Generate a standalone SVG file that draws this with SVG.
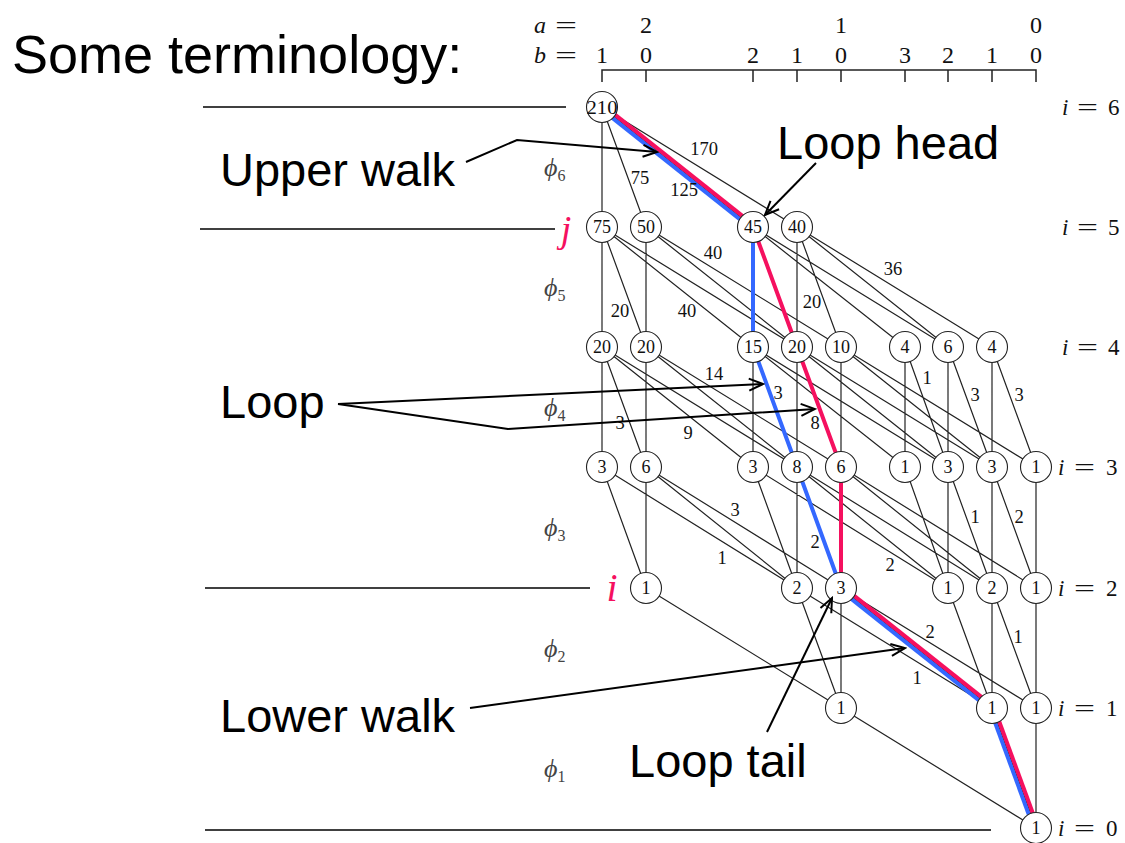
<svg xmlns="http://www.w3.org/2000/svg" width="1125" height="843" viewBox="0 0 1125 843">
<style>
.bg{fill:#fff}
.big{font-family:"Liberation Sans",Arial,sans-serif;font-size:47px;fill:#000}
.e{stroke:#222;stroke-width:1.2;fill:none}
.red{stroke:#F5105F;stroke-width:4;fill:none}
.blue{stroke:#3468FF;stroke-width:4;fill:none}
.nd circle{fill:#fff;stroke:#222;stroke-width:1.1}
.nd text{font-family:"Liberation Serif","DejaVu Serif",serif;font-size:18px;text-anchor:middle;fill:#111}
.lb{font-family:"Liberation Serif","DejaVu Serif",serif;font-size:18.5px;text-anchor:middle;fill:#111}
.m{font-family:"Liberation Serif","DejaVu Serif",serif;font-size:24px;fill:#111}
.mc{font-family:"Liberation Serif","DejaVu Serif",serif;font-size:24px;fill:#111;text-anchor:middle}
.il{font-family:"Liberation Serif","DejaVu Serif",serif;font-size:23px;fill:#111}
.phi{font-family:"Liberation Serif","DejaVu Serif",serif;font-size:26px;font-style:italic;fill:#444}
.phi tspan{font-size:16px;font-style:normal}
.rule{stroke:#000;stroke-width:1.5}
.arr{stroke:#000;stroke-width:2;fill:none;marker-end:url(#ah)}
.pink{font-family:"Liberation Serif","DejaVu Serif",serif;font-style:italic;fill:#F5105F;text-anchor:middle}
</style>
<defs>
<marker id="ah" viewBox="-16 -8 18 16" markerWidth="18" markerHeight="16" refX="0" refY="0" orient="auto" markerUnits="userSpaceOnUse">
<path d="M-14,-6 L0,0 L-14,6" fill="none" stroke="#000" stroke-width="2"/>
</marker>
</defs>
<rect class="bg" x="0" y="0" width="1125" height="843"/>

<text class="big" x="12" y="73" style="font-size:54px">Some terminology:</text>

<g id="header">
<text class="m" x="534" y="33" font-style="italic">a</text>
<text class="m" x="555" y="33" textLength="22" lengthAdjust="spacingAndGlyphs">=</text>
<text class="mc" x="646" y="33">2</text>
<text class="mc" x="841" y="33">1</text>
<text class="mc" x="1036" y="33">0</text>
<text class="m" x="534" y="63" font-style="italic">b</text>
<text class="m" x="555" y="63" textLength="22" lengthAdjust="spacingAndGlyphs">=</text>
<text class="mc" x="602" y="63">1</text>
<text class="mc" x="646" y="63">0</text>
<text class="mc" x="753" y="63">2</text>
<text class="mc" x="797" y="63">1</text>
<text class="mc" x="841" y="63">0</text>
<text class="mc" x="905" y="63">3</text>
<text class="mc" x="948" y="63">2</text>
<text class="mc" x="992" y="63">1</text>
<text class="mc" x="1036" y="63">0</text>
<path d="M602,82 V70 H1036 V82 M646,70 V82 M753,70 V82 M797,70 V82 M841,70 V82 M905,70 V82 M948,70 V82 M992,70 V82" stroke="#222" stroke-width="1.5" fill="none"/>
</g>

<g id="rules">
<line class="rule" x1="203" y1="107" x2="566" y2="107"/>
<line class="rule" x1="200" y1="229" x2="555" y2="229"/>
<line class="rule" x1="205" y1="588" x2="590" y2="588"/>
<line class="rule" x1="205" y1="830" x2="991" y2="830"/>
</g>

<g id="phis">
<text class="phi" x="544" y="176">ϕ<tspan dy="5">6</tspan></text>
<text class="phi" x="544" y="296">ϕ<tspan dy="5">5</tspan></text>
<text class="phi" x="544" y="416">ϕ<tspan dy="5">4</tspan></text>
<text class="phi" x="544" y="536">ϕ<tspan dy="5">3</tspan></text>
<text class="phi" x="544" y="657">ϕ<tspan dy="5">2</tspan></text>
<text class="phi" x="544" y="777">ϕ<tspan dy="5">1</tspan></text>
</g>

<g id="rowlabels">
<text class="il" y="115"><tspan x="1062" font-style="italic">i</tspan><tspan x="1077" textLength="21" lengthAdjust="spacingAndGlyphs">=</tspan><tspan x="1108">6</tspan></text>
<text class="il" y="235"><tspan x="1062" font-style="italic">i</tspan><tspan x="1077" textLength="21" lengthAdjust="spacingAndGlyphs">=</tspan><tspan x="1108">5</tspan></text>
<text class="il" y="355"><tspan x="1062" font-style="italic">i</tspan><tspan x="1077" textLength="21" lengthAdjust="spacingAndGlyphs">=</tspan><tspan x="1108">4</tspan></text>
<text class="il" y="475"><tspan x="1058" font-style="italic">i</tspan><tspan x="1074" textLength="21" lengthAdjust="spacingAndGlyphs">=</tspan><tspan x="1106">3</tspan></text>
<text class="il" y="596"><tspan x="1058" font-style="italic">i</tspan><tspan x="1074" textLength="21" lengthAdjust="spacingAndGlyphs">=</tspan><tspan x="1106">2</tspan></text>
<text class="il" y="716"><tspan x="1058" font-style="italic">i</tspan><tspan x="1074" textLength="21" lengthAdjust="spacingAndGlyphs">=</tspan><tspan x="1106">1</tspan></text>
<text class="il" y="836"><tspan x="1058" font-style="italic">i</tspan><tspan x="1074" textLength="21" lengthAdjust="spacingAndGlyphs">=</tspan><tspan x="1106">0</tspan></text>
</g>

<g id="connectors">
<path class="e" d="M602,107 L602,227 M602,107 L646,227 M602,107 L753,227 M602,107 L797,227"/>
<path class="e" d="M602,227 L602,347 M602,227 L646,347 M602,227 L753,347 M602,227 L797,347
 M646,227 L646,347 M646,227 L797,347 M646,227 L841,347
 M753,227 L753,347 M753,227 L797,347 M753,227 L905,347 M753,227 L948,347
 M797,227 L797,347 M797,227 L841,347 M797,227 L948,347 M797,227 L992,347"/>
<path class="e" d="M602,347 L602,467 M602,347 L646,467 M602,347 L753,467 M602,347 L797,467
 M646,347 L646,467 M646,347 L797,467 M646,347 L841,467
 M753,347 L753,467 M753,347 L797,467 M753,347 L905,467 M753,347 L948,467
 M797,347 L797,467 M797,347 L841,467 M797,347 L948,467 M797,347 L992,467
 M841,347 L841,467 M841,347 L992,467 M841,347 L1036,467
 M905,347 L905,467 M905,347 L948,467
 M948,347 L948,467 M948,347 L992,467
 M992,347 L992,467 M992,347 L1036,467"/>
<path class="e" d="M602,467 L646,588 M602,467 L797,588
 M646,467 L646,588 M646,467 L797,588 M646,467 L841,588
 M753,467 L797,588 M753,467 L948,588
 M797,467 L797,588 M797,467 L841,588 M797,467 L948,588 M797,467 L992,588
 M841,467 L841,588 M841,467 L992,588 M841,467 L1036,588
 M905,467 L948,588
 M948,467 L948,588 M948,467 L992,588
 M992,467 L992,588 M992,467 L1036,588
 M1036,467 L1036,588"/>
<path class="e" d="M646,588 L841,708
 M797,588 L841,708 M797,588 L992,708
 M841,588 L841,708 M841,588 L992,708 M841,588 L1036,708
 M948,588 L992,708
 M992,588 L992,708 M992,588 L1036,708
 M1036,588 L1036,708"/>
<path class="e" d="M841,708 L1036,828 M992,708 L1036,828 M1036,708 L1036,828"/>

<g id="lower-upper-walks">
<path class="blue" d="M600.7,108.6 L751.7,228.6"/>
<path class="red" d="M603.3,105.4 L754.3,225.4"/>
<path class="blue" d="M753,227 L753,347 L797,467 L841,588"/>
<path class="red" d="M753,227 L797,347 L841,467 L841,588"/>
<path class="blue" d="M839.7,589.6 L990.7,709.6"/>
<path class="red" d="M842.3,586.4 L993.3,706.4"/>
<path class="blue" d="M990,708.7 L1034,828.7"/>
<path class="red" d="M994,707.3 L1038,827.3"/>
</g>
</g>

<g id="edge-labels">
<text class="lb" x="704" y="155">170</text>
<text class="lb" x="640" y="184">75</text>
<text class="lb" x="684" y="196">125</text>
<text class="lb" x="713" y="259">40</text>
<text class="lb" x="620" y="317">20</text>
<text class="lb" x="687" y="317">40</text>
<text class="lb" x="812" y="308">20</text>
<text class="lb" x="893" y="275">36</text>
<text class="lb" x="714" y="380">14</text>
<text class="lb" x="778" y="399">3</text>
<text class="lb" x="620" y="429">3</text>
<text class="lb" x="688" y="439">9</text>
<text class="lb" x="815" y="429">8</text>
<text class="lb" x="927" y="384">1</text>
<text class="lb" x="975" y="401">3</text>
<text class="lb" x="1019" y="401">3</text>
<text class="lb" x="735" y="516">3</text>
<text class="lb" x="815" y="548">2</text>
<text class="lb" x="722" y="564">1</text>
<text class="lb" x="975" y="523">1</text>
<text class="lb" x="1019" y="523">2</text>
<text class="lb" x="890" y="571">2</text>
<text class="lb" x="930" y="638">2</text>
<text class="lb" x="1018" y="643">1</text>
<text class="lb" x="917" y="684">1</text>
</g>

<g id="n6-0" class="nd"><circle cx="602" cy="107" r="15.5"/><text x="602" y="113.5" style="font-size:19px" textLength="31" lengthAdjust="spacingAndGlyphs">210</text></g>
<g id="n5-0" class="nd"><circle cx="602" cy="227" r="15.5"/><text x="602" y="233">75</text></g>
<g id="n5-1" class="nd"><circle cx="646" cy="227" r="15.5"/><text x="646" y="233">50</text></g>
<g id="n5-2" class="nd"><circle cx="753" cy="227" r="15.5"/><text x="753" y="233">45</text></g>
<g id="n5-3" class="nd"><circle cx="797" cy="227" r="15.5"/><text x="797" y="233">40</text></g>
<g id="n4-0" class="nd"><circle cx="602" cy="347" r="15.5"/><text x="602" y="353">20</text></g>
<g id="n4-1" class="nd"><circle cx="646" cy="347" r="15.5"/><text x="646" y="353">20</text></g>
<g id="n4-2" class="nd"><circle cx="753" cy="347" r="15.5"/><text x="753" y="353">15</text></g>
<g id="n4-3" class="nd"><circle cx="797" cy="347" r="15.5"/><text x="797" y="353">20</text></g>
<g id="n4-4" class="nd"><circle cx="841" cy="347" r="15.5"/><text x="841" y="353">10</text></g>
<g id="n4-5" class="nd"><circle cx="905" cy="347" r="15.5"/><text x="905" y="353">4</text></g>
<g id="n4-6" class="nd"><circle cx="948" cy="347" r="15.5"/><text x="948" y="353">6</text></g>
<g id="n4-7" class="nd"><circle cx="992" cy="347" r="15.5"/><text x="992" y="353">4</text></g>
<g id="n3-0" class="nd"><circle cx="602" cy="467" r="15.5"/><text x="602" y="473">3</text></g>
<g id="n3-1" class="nd"><circle cx="646" cy="467" r="15.5"/><text x="646" y="473">6</text></g>
<g id="n3-2" class="nd"><circle cx="753" cy="467" r="15.5"/><text x="753" y="473">3</text></g>
<g id="n3-3" class="nd"><circle cx="797" cy="467" r="15.5"/><text x="797" y="473">8</text></g>
<g id="n3-4" class="nd"><circle cx="841" cy="467" r="15.5"/><text x="841" y="473">6</text></g>
<g id="n3-5" class="nd"><circle cx="905" cy="467" r="15.5"/><text x="905" y="473">1</text></g>
<g id="n3-6" class="nd"><circle cx="948" cy="467" r="15.5"/><text x="948" y="473">3</text></g>
<g id="n3-7" class="nd"><circle cx="992" cy="467" r="15.5"/><text x="992" y="473">3</text></g>
<g id="n3-8" class="nd"><circle cx="1036" cy="467" r="15.5"/><text x="1036" y="473">1</text></g>
<g id="n2-1" class="nd"><circle cx="646" cy="588" r="15.5"/><text x="646" y="594">1</text></g>
<g id="n2-3" class="nd"><circle cx="797" cy="588" r="15.5"/><text x="797" y="594">2</text></g>
<g id="n2-4" class="nd"><circle cx="841" cy="588" r="15.5"/><text x="841" y="594">3</text></g>
<g id="n2-6" class="nd"><circle cx="948" cy="588" r="15.5"/><text x="948" y="594">1</text></g>
<g id="n2-7" class="nd"><circle cx="992" cy="588" r="15.5"/><text x="992" y="594">2</text></g>
<g id="n2-8" class="nd"><circle cx="1036" cy="588" r="15.5"/><text x="1036" y="594">1</text></g>
<g id="n1-4" class="nd"><circle cx="841" cy="708" r="15.5"/><text x="841" y="714">1</text></g>
<g id="n1-7" class="nd"><circle cx="992" cy="708" r="15.5"/><text x="992" y="714">1</text></g>
<g id="n1-8" class="nd"><circle cx="1036" cy="708" r="15.5"/><text x="1036" y="714">1</text></g>
<g id="n0-8" class="nd"><circle cx="1036" cy="828" r="15.5"/><text x="1036" y="834">1</text></g>

<g id="marks">
<text class="pink" x="566" y="242" font-size="38">j</text>
<text class="pink" x="612" y="601" font-size="40">i</text>
</g>

<g id="annotations">
<text class="big" x="220" y="186">Upper walk</text>
<path class="arr" d="M466,162 L517,140 L657,152"/>
<text class="big" x="777" y="159">Loop head</text>
<path class="arr" d="M816,163 L765,215"/>
<text class="big" x="220" y="418">Loop</text>
<path class="arr" d="M338,404 L763,384"/>
<path class="arr" d="M338,404 L508,429 L815,409"/>
<text class="big" x="220" y="732">Lower walk</text>
<path class="arr" d="M470,708 L905,648"/>
<text class="big" x="629" y="777">Loop tail</text>
<path class="arr" d="M767,732 L832,598"/>
</g>
</svg>
